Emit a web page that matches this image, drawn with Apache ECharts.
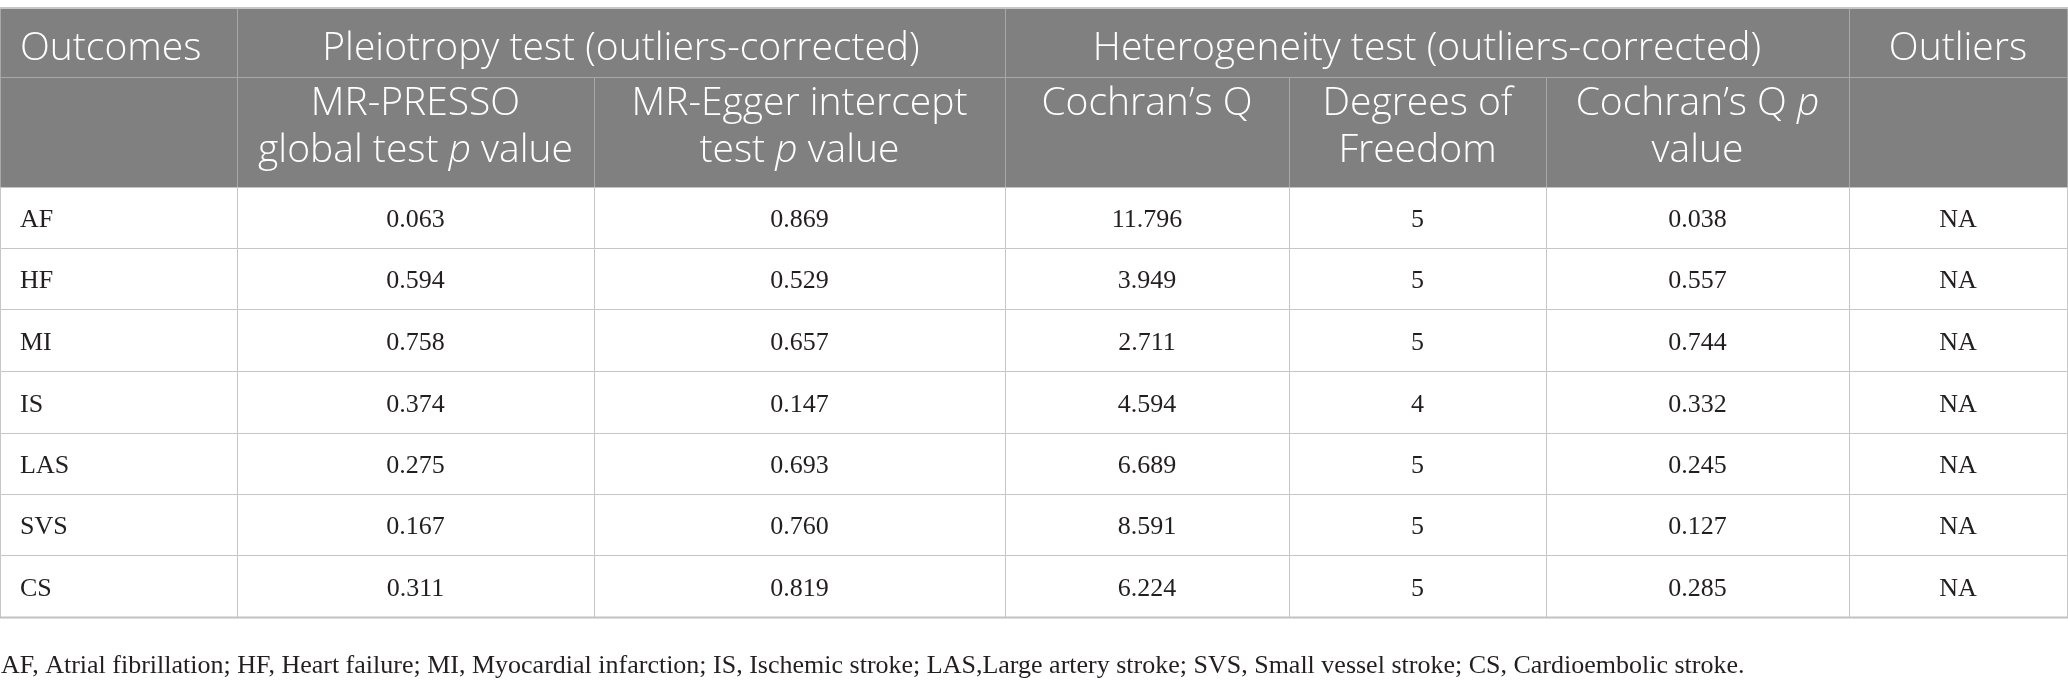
<!DOCTYPE html>
<html lang="en">
<head>
<meta charset="UTF-8">
<title>MR pleiotropy and heterogeneity tests</title>
<script src="https://cdn.jsdelivr.net/npm/echarts@6/dist/echarts.min.js"></script>
<style>
  html, body { margin: 0; padding: 0; background: #fff; }
  #table { width: 2068px; height: 698px; }
</style>
</head>
<body>
<div id="table"></div>
<script>
// table values
var outcomes = ['AF', 'HF', 'MI', 'IS', 'LAS', 'SVS', 'CS'];
var pressoP = [0.063, 0.594, 0.758, 0.374, 0.275, 0.167, 0.311];
var eggerP = [0.869, 0.529, 0.657, 0.147, 0.693, 0.760, 0.819];
var cochranQ = [11.796, 3.949, 2.711, 4.594, 6.689, 8.591, 6.224];
var degreesOfFreedom = [5, 5, 5, 4, 5, 5, 5];
var cochranP = [0.038, 0.557, 0.744, 0.332, 0.245, 0.127, 0.285];
var outliers = ['NA', 'NA', 'NA', 'NA', 'NA', 'NA', 'NA'];

var groupHeaders = ['Outcomes', 'Pleiotropy test (outliers-corrected)', 'Heterogeneity test (outliers-corrected)', 'Outliers'];
var groupSpans = [1, 2, 3, 1];
var subHeaders = ['', 'MR-PRESSO\nglobal test {i|p} value', 'MR-Egger intercept\ntest {i|p} value',
    'Cochran\u2019s Q', 'Degrees of\nFreedom', 'Cochran\u2019s Q {i|p}\nvalue', ''];
var footnote = 'AF, Atrial fibrillation; HF, Heart failure; MI, Myocardial infarction; IS, Ischemic stroke; ' +
    'LAS,Large artery stroke; SVS, Small vessel stroke; CS, Cardioembolic stroke.';

// layout (page pixels, mapped through hidden value axes)
var colEdges = [0, 237, 594, 1005, 1289, 1546, 1849, 2067];
var rowEdges = [8, 77, 187, 248, 309, 371, 433, 494, 555, 617];

var headFont = '"Open Sans", "Noto Sans", sans-serif';
var bodyFont = '"Liberation Serif", "DejaVu Serif", serif';
var headSize = 39;
var bodySize = 26;

var cells = [];
var c = 0;
groupHeaders.forEach(function (t, i) {
    cells.push({ x0: colEdges[c], x1: colEdges[c + groupSpans[i]], y0: rowEdges[0], y1: rowEdges[1],
        text: t, kind: 'head1', left: i === 0 });
    c += groupSpans[i];
});
subHeaders.forEach(function (t, i) {
    cells.push({ x0: colEdges[i], x1: colEdges[i + 1], y0: rowEdges[1], y1: rowEdges[2],
        text: t, kind: 'head2', left: false });
});
outcomes.forEach(function (o, r) {
    var row = [o, pressoP[r].toFixed(3), eggerP[r].toFixed(3), cochranQ[r].toFixed(3),
        String(degreesOfFreedom[r]), cochranP[r].toFixed(3), outliers[r]];
    row.forEach(function (t, i) {
        cells.push({ x0: colEdges[i], x1: colEdges[i + 1], y0: rowEdges[r + 2], y1: rowEdges[r + 3],
            text: t, kind: 'body', left: i === 0 });
    });
});

var chart = echarts.init(document.getElementById('table'));

chart.setOption({
    animation: false,
    title: {
        text: footnote,
        left: 1,
        top: 653,
        padding: 0,
        textStyle: { fontFamily: bodyFont, fontWeight: 'normal', fontSize: bodySize, color: '#231f20' }
    },
    grid: { left: 0, right: 0, top: 0, bottom: 0 },
    xAxis: { type: 'value', min: 0, max: 2068, show: false },
    yAxis: { type: 'value', min: 0, max: 698, inverse: true, show: false },
    series: [{
        type: 'custom',
        coordinateSystem: 'cartesian2d',
        data: cells.map(function (d) { return [d.x0, d.y0, d.x1, d.y1]; }),
        renderItem: function (params, api) {
            var d = cells[params.dataIndex];
            var p0 = api.coord([api.value(0), api.value(1)]);
            var p1 = api.coord([api.value(2), api.value(3)]);
            var isHead = d.kind !== 'body';
            var tx = d.left ? p0[0] + 20 : (p0[0] + p1[0]) / 2;
            var ty, va;
            if (d.kind === 'head2') {
                ty = p0[1] + 3;
                va = 'top';
            } else if (d.kind === 'head1') {
                ty = (p0[1] + p1[1]) / 2 + 6;
                va = 'middle';
            } else {
                ty = (p0[1] + p1[1]) / 2 + 3;
                va = 'middle';
            }
            return {
                type: 'group',
                children: [{
                    type: 'rect',
                    shape: { x: p0[0] + 0.5, y: p0[1] + 0.5, width: p1[0] - p0[0], height: p1[1] - p0[1] },
                    style: { fill: isHead ? '#808080' : '#ffffff', stroke: isHead ? '#a8a8a8' : '#c6c6c6', lineWidth: 1 }
                }, {
                    type: 'text',
                    x: tx,
                    y: ty,
                    style: {
                        text: d.text,
                        fill: isHead ? '#ffffff' : '#231f20',
                        fontFamily: isHead ? headFont : bodyFont,
                        fontSize: isHead ? headSize : bodySize,
                        fontWeight: isHead ? 300 : 'normal',
                        lineHeight: isHead ? 47 : 30,
                        align: d.left ? 'left' : 'center',
                        verticalAlign: va,
                        rich: {
                            i: { fontStyle: 'italic', fontFamily: headFont, fontSize: headSize, fontWeight: 300,
                                 lineHeight: 47, fill: '#ffffff' }
                        }
                    }
                }]
            };
        }
    }, {
        // top and bottom rules of the table
        type: 'custom',
        coordinateSystem: 'cartesian2d',
        data: [[colEdges[0], rowEdges[0], colEdges[colEdges.length - 1], rowEdges[rowEdges.length - 1]]],
        renderItem: function (params, api) {
            var p0 = api.coord([api.value(0), api.value(1)]);
            var p1 = api.coord([api.value(2), api.value(3)]);
            return {
                type: 'group',
                children: [{
                    type: 'line',
                    shape: { x1: p0[0], y1: p0[1], x2: p1[0] + 1, y2: p0[1] },
                    style: { stroke: '#c6c6c6', lineWidth: 2 }
                }, {
                    type: 'line',
                    shape: { x1: p0[0], y1: p1[1] + 0.5, x2: p1[0] + 1, y2: p1[1] + 0.5 },
                    style: { stroke: '#c2c2c2', lineWidth: 2 }
                }]
            };
        }
    }]
});
</script>
</body>
</html>
